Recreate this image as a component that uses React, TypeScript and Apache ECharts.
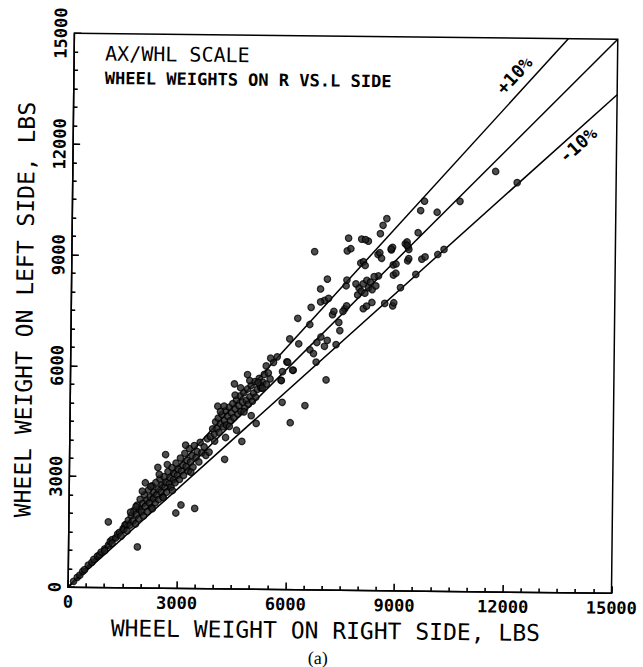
import React, { useEffect, useRef } from "react";
import * as echarts from "echarts";

// ---- axis setup ----
const AXIS_MIN = 0;
const AXIS_MAX = 15000;
const AXIS_STEP = 3000;
const xTitle = "WHEEL WEIGHT ON RIGHT SIDE, LBS";
const yTitle = "WHEEL WEIGHT ON LEFT SIDE, LBS";
const noteLine1 = "AX/WHL SCALE";
const noteLine2 = "WHEEL WEIGHTS ON R VS.L SIDE";
const caption = "(a)";

// ---- reference lines (L = R, +10 %, -10 %) ----
const equalLine = [[0, 0], [15000, 15000]];
const plusTenLine = [[0, 0], [13636, 15000]];
const minusTenLine = [[0, 0], [15000, 13500]];
const plusTenLabel = { text: "+10%", coord: [12150, 14000] };
const minusTenLabel = { text: "-10%", coord: [13930, 12130] };

// ---- measured points (right side, left side) ----
const lowBand = [
  [150, 160], [250, 270], [320, 330], [400, 430], [450, 480], [550, 600], [650, 680],
  [700, 760], [800, 850], [850, 880], [900, 960], [1000, 1050], [1000, 1000],
  [1100, 1150], [1150, 1250], [1200, 1300], [1200, 1200], [1300, 1350], [1350, 1450],
  [1400, 1500], [1450, 1400], [1500, 1600], [1550, 1700],
];

const clusterA = [
  [1520, 1580], [1580, 1720], [1610, 1540], [1640, 1830], [1690, 1700], [1720, 1960],
  [1770, 1810], [1790, 2090], [1840, 1730], [1860, 1990], [1880, 2240], [1930, 1880],
  [1940, 2130], [1960, 2400], [2010, 2060], [2040, 2290], [2060, 1950], [2080, 2520],
  [2110, 2210], [2150, 2380], [2160, 2070], [2190, 2660], [2220, 2300], [2240, 2470],
  [2280, 2180], [2290, 2770], [2330, 2420], [2340, 2590], [2380, 2310], [2390, 2860],
  [2420, 2520], [2460, 2680], [2470, 2400], [2500, 2960], [2540, 2600], [2560, 2790],
  [2590, 2470], [2610, 3020], [2640, 2730], [2670, 2870], [2690, 2600], [2720, 3160],
  [2760, 2830], [2780, 3000], [2810, 2740], [2830, 3270], [2870, 2940], [2890, 3110],
  [2920, 2860], [2940, 3390], [2980, 3060], [3000, 3230], [3040, 2950], [3060, 3530],
  [3090, 3180], [3130, 3340], [3150, 3060], [3180, 3660], [3220, 3300], [3240, 3470],
  [3280, 3180], [3300, 3790], [3340, 3420], [3380, 3600], [3410, 3290], [3440, 3870],
  [3490, 3550], [3520, 3710], [3570, 3430], [3600, 3960], [3650, 3680], [3710, 3840],
  [3760, 3610], [3800, 4060], [2300, 2150], [2600, 2450], [2850, 2650], [2100, 2850],
  [2440, 3270], [2650, 3620], [1850, 2200], [2250, 2750], [2020, 2620], [2700, 3350],
  [3200, 3880], [2480, 3080], [1700, 2050], [3350, 3150],
];

const clusterB = [
  [3880, 4120], [3940, 4330], [3990, 4190], [4020, 4520], [4060, 4340], [4090, 4620],
  [4120, 4240], [4160, 4470], [4190, 4720], [4230, 4390], [4260, 4560], [4290, 4830],
  [4320, 4440], [4360, 4670], [4390, 4920], [4430, 4560], [4460, 4760], [4490, 5020],
  [4520, 4640], [4560, 4870], [4590, 5120], [4630, 4740], [4660, 4960], [4690, 5230],
  [4720, 4810], [4760, 5060], [4790, 5320], [4820, 4900], [4860, 5110], [4890, 5420],
  [4920, 5010], [4960, 5210], [4990, 5520], [5030, 5090], [5060, 5310], [5090, 5620],
  [5120, 5200], [5160, 5410], [5210, 5710], [5260, 5450], [5310, 5610], [5350, 5820],
  [5410, 5560], [5460, 5860], [5510, 5700], [4075, 4944], [4527, 5555], [4886, 5811],
  [5967, 6166], [6146, 5944], [5814, 5666], [5600, 6150], [5700, 6300], [5520, 6260],
  [5990, 6160], [5850, 5900], [5240, 5520], [5300, 5450], [5180, 5600], [4000, 4000],
  [4400, 4400], [4800, 4800], [4300, 4100], [3850, 3700], [4600, 4300], [5000, 4700],
  [4250, 4950], [4700, 5450], [4150, 4800], [4950, 5650], [4550, 5250], [5400, 6050],
];

const midSpread = [
  [6040, 6790], [6290, 6660], [6255, 7350], [6590, 7185], [6620, 7650], [6790, 6700],
  [6600, 6500], [6900, 6850], [7000, 6600], [6700, 6400], [6775, 6170], [7075, 6760],
  [7320, 6650], [6130, 5940], [5820, 5660], [6990, 7840], [7100, 7900], [6880, 7800],
  [7213, 7460], [7250, 7550], [6876, 8150], [7060, 8420], [7390, 7250], [7420, 7030],
  [7550, 7620], [7600, 7700], [7500, 7550],
];

const upperCluster = [
  [7580, 8245], [7600, 8400], [7633, 9536], [7995, 9512], [8180, 9460], [8100, 9500],
  [7600, 9190], [7700, 9250], [8450, 9100], [8500, 9150], [8550, 9000], [8819, 9228],
  [8850, 9300], [9277, 9312], [9200, 9400], [9300, 9250], [9250, 9450], [9551, 9704],
  [7976, 8866], [8050, 8900], [8100, 8800], [8874, 8823], [8950, 8850], [9270, 8940],
  [9300, 9000], [9660, 8990], [9750, 9050], [10100, 9120], [10270, 9260], [8880, 8550],
  [8950, 8600], [8470, 8520], [9500, 8574], [9080, 8211], [8870, 7714], [8900, 7800],
  [8650, 7780], [8297, 7801], [8060, 7630], [8150, 7700], [7937, 8190], [7900, 8000],
  [8000, 8100], [8050, 8300], [8100, 8050], [8200, 8200], [8300, 8150], [8150, 8400],
  [8250, 8350], [8400, 8250], [7850, 8300], [8350, 8500], [8683, 10074], [8580, 9893],
  [8509, 9666], [9718, 10558], [9614, 10304], [10069, 10263], [10697, 10566],
  [11672, 11385], [12268, 11090], [9250, 9360], [8810, 9255],
];

const outliers = [
  [1090, 1780], [1900, 1110], [2950, 2040], [3090, 2260], [3470, 2170], [4280, 3510],
  [4750, 4000], [6080, 4520], [6480, 4990], [5850, 5070], [5140, 4490], [6700, 9160],
  [7055, 5690],
];

const allPoints = [...lowBand, ...clusterA, ...clusterB, ...midSpread, ...upperCluster, ...outliers];

const MONO = "'DejaVu Sans Mono', 'Liberation Mono', monospace";

function refLine(data: number[][], label?: { text: string; coord: number[] }, rot = 0) {
  return {
    type: "line",
    data,
    symbol: "none",
    silent: true,
    z: 3,
    lineStyle: { color: "#000", width: 1.5 },
    markPoint: label
      ? {
          symbol: "circle",
          symbolSize: 0,
          silent: true,
          data: [{ coord: label.coord, value: label.text }],
          label: {
            show: true,
            position: "inside",
            formatter: label.text,
            rotate: rot,
            color: "#000",
            fontFamily: MONO,
            fontWeight: "bold",
            fontSize: 18,
          },
        }
      : undefined,
  };
}

export default function App() {
  const ref = useRef<HTMLDivElement>(null);
  useEffect(() => {
    document.body.style.margin = "0";
    const chart = echarts.init(ref.current!, undefined, { renderer: "svg" });
    const tickStyle = { color: "#000", width: 1.6 };
    const axisCommon = {
      type: "value",
      min: AXIS_MIN,
      max: AXIS_MAX,
      interval: AXIS_STEP,
      splitLine: { show: false },
      axisLine: { show: true, onZero: false, lineStyle: { color: "#000", width: 1.5 } },
      axisTick: { show: true, inside: true, length: 7, lineStyle: tickStyle },
      minorTick: { show: true, splitNumber: 6, length: 4, lineStyle: tickStyle },
      nameLocation: "middle",
      nameTextStyle: { color: "#000", fontFamily: MONO, fontSize: 23 },
    };
    const fmt = (v: number) => String(v);
    chart.setOption({
      animation: false,
      backgroundColor: "#fff",
      grid: {
        left: 71,
        right: 24,
        top: 36,
        bottom: 77,
        show: true,
        z: 0,
        borderColor: "#000",
        borderWidth: 1.5,
        backgroundColor: "transparent",
      },
      xAxis: {
        ...axisCommon,
        z: 10,
        name: xTitle,
        nameGap: 29,
        nameTextStyle: { ...axisCommon.nameTextStyle, padding: [0, 28, 0, 0] },
        axisLabel: { color: "#000", fontFamily: MONO, fontWeight: "bold", fontSize: 17, margin: 6, formatter: fmt },
      },
      yAxis: {
        ...axisCommon,
        z: 10,
        name: yTitle,
        nameGap: 35,
        axisLabel: {
          color: "#000",
          fontFamily: MONO,
          fontWeight: "bold",
          fontSize: 17,
          rotate: 90,
          margin: 5,
          formatter: fmt,
        },
      },
      graphic: [
        {
          type: "text",
          left: 102,
          top: 46,
          style: { text: noteLine1, fontFamily: MONO, fontSize: 20, lineHeight: 20, fill: "#000" },
        },
        {
          type: "text",
          left: 102,
          top: 72,
          style: { text: noteLine2, fontFamily: MONO, fontSize: 17, lineHeight: 17, fontWeight: "bold", fill: "#000" },
        },
        {
          type: "text",
          left: "center",
          top: 649,
          style: { text: caption, fontFamily: "'Liberation Serif', serif", fontSize: 18, lineHeight: 18, fill: "#000" },
        },
      ],
      series: [
        refLine(equalLine),
        refLine(plusTenLine, plusTenLabel, 48),
        refLine(minusTenLine, minusTenLabel, 42),
        {
          type: "scatter",
          data: allPoints,
          symbol: "circle",
          symbolSize: 6.5,
          z: 4,
          itemStyle: { color: "#222", borderColor: "#000", borderWidth: 1.2 },
        },
      ],
    });
    return () => chart.dispose();
  }, []);
  return (
    <div
      ref={ref}
      style={{
        position: "absolute",
        left: 0,
        top: 0,
        width: 643,
        height: 667,
        transform: "rotate(0.65deg)",
        transformOrigin: "50% 50%",
      }}
    />
  );
}
